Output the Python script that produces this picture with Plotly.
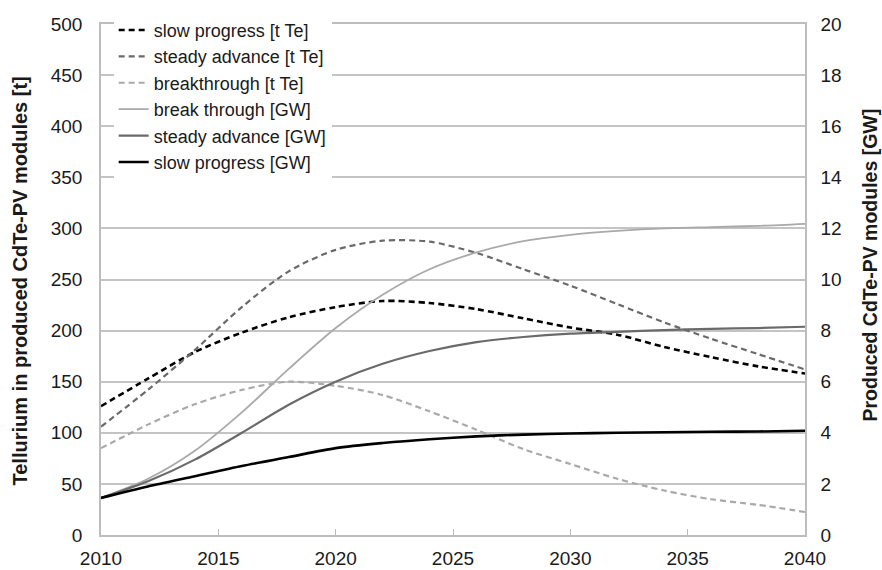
import plotly.graph_objects as go

# Scenario years
years = [2010, 2012, 2014, 2016, 2018, 2020, 2022, 2024, 2026, 2028,
         2030, 2032, 2034, 2036, 2038, 2040]

# Tellurium demand in produced CdTe-PV modules [t Te] (left axis)
te_slow = [126, 153, 179, 198, 213, 223, 229, 227, 221, 212,
           203, 196, 184, 174, 165, 158]
te_steady = [106, 142, 181, 223, 258, 279, 288, 287, 276, 260,
             244, 226, 208, 192, 177, 162]
te_breakthrough = [85, 108, 128, 142, 150, 146, 137, 121, 103, 84,
                   69.5, 55, 43.5, 35, 29.5, 22.5]

# Produced CdTe-PV modules [GW] (right axis)
gw_breakthrough = [1.45, 2.2, 3.3, 4.8, 6.5, 8.1, 9.4, 10.4, 11.06, 11.5,
                   11.75, 11.9, 12.0, 12.05, 12.1, 12.18]
gw_steady = [1.45, 2.1, 2.95, 4.0, 5.1, 6.0, 6.7, 7.2, 7.55, 7.75,
             7.88, 7.95, 8.02, 8.07, 8.1, 8.15]
gw_slow = [1.45, 1.9, 2.3, 2.7, 3.05, 3.4, 3.6, 3.75, 3.86, 3.93,
           3.97, 4.0, 4.02, 4.04, 4.05, 4.08]

x_ticks = [2010, 2015, 2020, 2025, 2030, 2035, 2040]

BLACK = "#000000"
DARK = "#6a6a6a"
LIGHT = "#a9a9a9"
DASH = "6px,4px"
FONT = "Liberation Sans, Arial, sans-serif"
TEXT = "#1a1a1a"

fig = go.Figure()

series = [
    ("slow progress [t Te]", te_slow, BLACK, DASH, 2.6, "y"),
    ("steady advance [t Te]", te_steady, DARK, DASH, 2.2, "y"),
    ("breakthrough [t Te]", te_breakthrough, LIGHT, DASH, 2.2, "y"),
    ("break through [GW]", gw_breakthrough, LIGHT, "solid", 1.8, "y2"),
    ("steady advance [GW]", gw_steady, DARK, "solid", 2.2, "y2"),
    ("slow progress [GW]", gw_slow, BLACK, "solid", 2.6, "y2"),
]

for name, vals, color, dash, width, axis in series:
    fig.add_trace(go.Scatter(
        x=years, y=vals, name=name, mode="lines", yaxis=axis,
        line=dict(color=color, dash=dash, width=width, shape="spline", smoothing=0.8),
    ))

axis_line = "#bdbdbd"

fig.update_layout(
    width=882, height=570,
    margin=dict(l=101, r=77, t=17, b=35),
    paper_bgcolor="white", plot_bgcolor="white",
    font=dict(family=FONT, size=19, color=TEXT),
    showlegend=True,
    legend=dict(
        x=0.018, y=1.024, xanchor="left", yanchor="top",
        bgcolor="white", borderwidth=0,
        font=dict(family=FONT, size=18, color=TEXT),
        tracegroupgap=0, itemwidth=30,
    ),
    xaxis=dict(
        range=[2010, 2040], tickvals=x_ticks, showgrid=False,
        showline=True, linecolor=axis_line, linewidth=1.5, mirror=True,
        ticks="inside", ticklen=6, tickcolor=axis_line,
        ticklabelstandoff=5, zeroline=False, automargin=False,
        tickfont=dict(family=FONT, size=19, color=TEXT),
    ),
    yaxis=dict(
        range=[0, 500], dtick=50, showgrid=True, gridcolor="#c4c4c4", gridwidth=1.5,
        showline=True, linecolor=axis_line, linewidth=1.5,
        ticks="", ticklabelstandoff=13, zeroline=False, automargin=False,
        tickfont=dict(family=FONT, size=19, color=TEXT),
    ),
    yaxis2=dict(
        range=[0, 20], dtick=2, overlaying="y", side="right", showgrid=False,
        showline=True, linecolor=axis_line, linewidth=1.5,
        ticks="", ticklabelstandoff=10, zeroline=False, automargin=False,
        tickfont=dict(family=FONT, size=19, color=TEXT),
    ),
)

# Axis titles
fig.add_annotation(
    text="<b>Tellurium in produced CdTe-PV modules [t]</b>",
    xref="paper", yref="paper", x=0, y=0.5, xanchor="center", yanchor="middle",
    xshift=-82, yshift=-2, textangle=-90, showarrow=False,
    font=dict(family=FONT, size=20, color=TEXT),
)
fig.add_annotation(
    text="<b>Produced CdTe-PV modules [GW]</b>",
    xref="paper", yref="paper", x=1, y=0.5, xanchor="center", yanchor="middle",
    xshift=64, yshift=14, textangle=-90, showarrow=False,
    font=dict(family=FONT, size=19.5, color=TEXT),
)

fig.write_html("out.html")
